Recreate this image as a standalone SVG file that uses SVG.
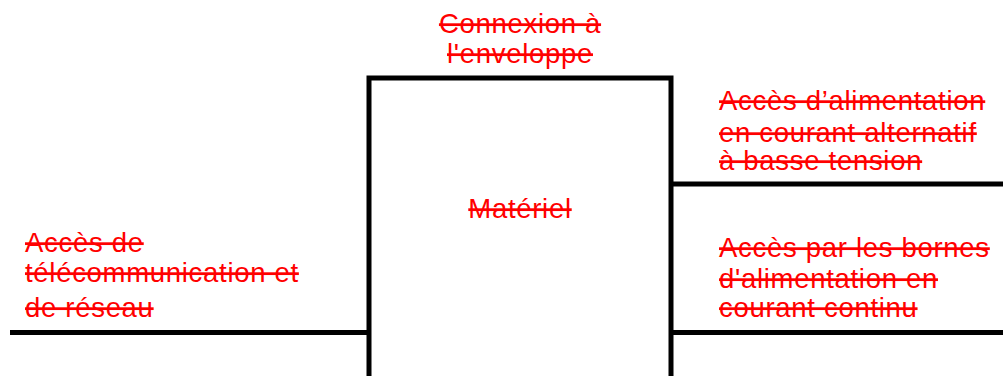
<svg xmlns="http://www.w3.org/2000/svg" width="1003" height="376" viewBox="0 0 1003 376">
<style>
.t{font-family:"Liberation Sans",Arial,sans-serif;font-size:27.5px;letter-spacing:0.7px;fill:#ff0000;text-decoration:line-through}
.c{text-anchor:middle}
.ln{stroke:#000;stroke-width:5;fill:none}
</style>
<rect width="1003" height="376" fill="#fff"/>
<g id="materiel">
<path class="ln" d="M369,380 V78 H671 V380"/>
<text class="t c" x="520" y="218">Matériel</text>
</g>
<g id="connectors">
<line class="ln" x1="10" y1="332.5" x2="369" y2="332.5"/>
<line class="ln" x1="671" y1="184" x2="1003" y2="184"/>
<line class="ln" x1="671" y1="332.5" x2="1003" y2="332.5"/>
</g>
<g id="enveloppe">
<text class="t c" x="520" y="33">Connexion à</text>
<text class="t c" x="520" y="63">l'enveloppe</text>
</g>
<g id="telecom">
<text class="t" x="25" y="252">Accès de</text>
<text class="t" x="25" y="282">télécommunication et</text>
<text class="t" x="25" y="317">de réseau</text>
</g>
<g id="alim-ac">
<text class="t" x="719" y="110">Accès d’alimentation</text>
<text class="t" x="719" y="142">en courant alternatif</text>
<text class="t" x="719" y="170">à basse tension</text>
</g>
<g id="alim-dc">
<text class="t" x="719" y="257">Accès par les bornes</text>
<text class="t" x="719" y="288">d'alimentation en</text>
<text class="t" x="719" y="317">courant continu</text>
</g>
</svg>
